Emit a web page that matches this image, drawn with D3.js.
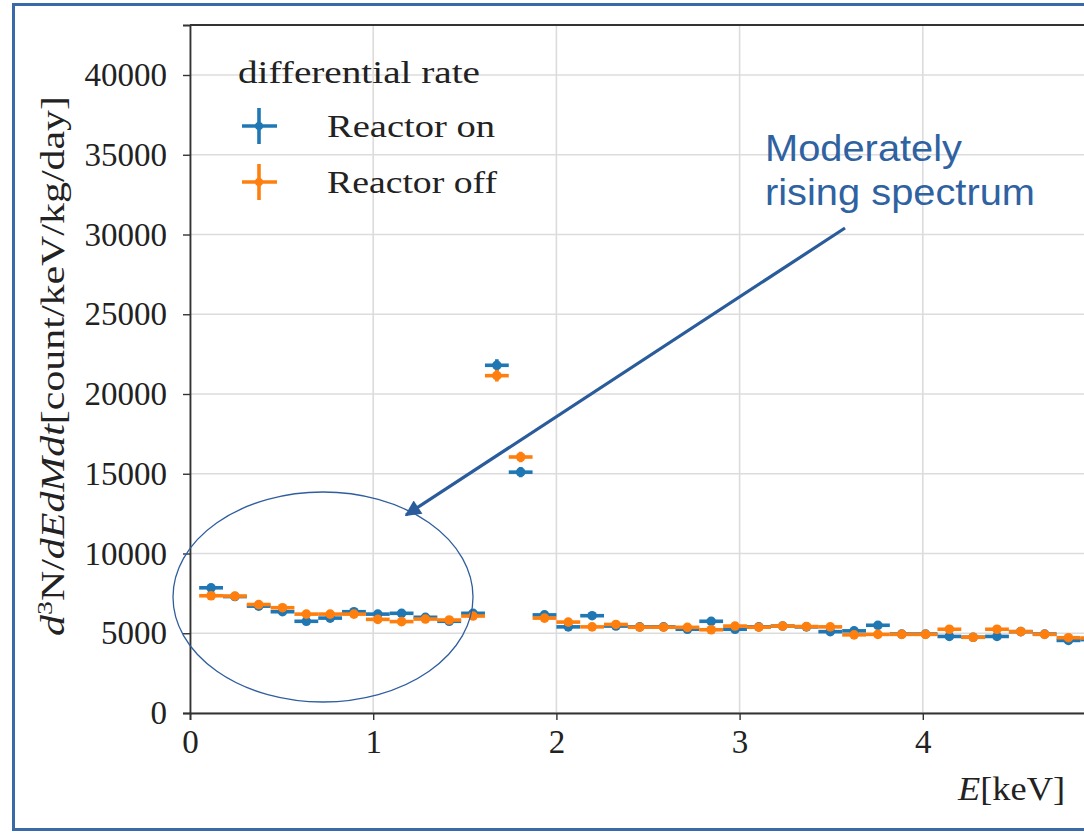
<!DOCTYPE html>
<html><head><meta charset="utf-8">
<script src="https://cdn.jsdelivr.net/npm/d3@7/dist/d3.min.js"></script>
<style>
html,body{margin:0;padding:0;background:#fff;overflow:hidden}
svg{display:block}
</style></head>
<body>
<script>
// ---- data ----
const energy = [0.115,0.245,0.375,0.505,0.635,0.765,0.895,1.025,1.155,1.285,1.415,1.545,1.675,1.805,1.935,2.065,2.195,2.325,2.455,2.585,2.715,2.845,2.975,3.105,3.235,3.365,3.495,3.625,3.755,3.885,4.015,4.145,4.275,4.405,4.535,4.665,4.795,4.925];
const binWidth = 0.13;
const rateOn  = [7850,7300,6700,6350,5750,5950,6350,6200,6250,6000,5750,6250,21800,15100,6150,5400,6100,5450,5400,5400,5250,5750,5250,5400,5450,5400,5100,5150,5500,4950,4950,4800,4750,4800,5100,4950,4550,4600];
const rateOff = [7350,7330,6800,6600,6200,6200,6200,5870,5730,5890,5830,6080,21150,16050,5950,5700,5400,5550,5380,5380,5370,5220,5450,5380,5450,5420,5400,4900,4930,4930,4930,5250,4750,5250,5100,4930,4720,4700];
const errOn  = [230,220,210,210,200,200,210,210,210,200,200,210,380,320,210,190,200,190,190,190,190,200,190,190,190,190,190,190,190,180,180,180,180,180,190,180,180,180];
const errOff = [220,220,210,210,200,200,200,200,200,200,200,200,370,330,200,190,190,190,190,190,190,190,190,190,190,190,190,180,180,180,180,190,180,190,190,180,180,180];
const xTicks = [0,1,2,3,4];
const xGrid = [0,1,2,3,4,5];
const yTicks = [0,5000,10000,15000,20000,25000,30000,35000,40000];
const seriesNames = ["Reactor on","Reactor off"];
const seriesColors = ["#1f77b4","#ff7f0e"];
const legendTitle = "differential rate";
const noteLines = ["Moderately","rising spectrum"];

// ---- layout ----
const W = 1084, H = 833;
const svg = d3.select("body").append("svg").attr("width", W).attr("height", H);
const serif = "'Liberation Serif','Times New Roman',serif";
const sans = "'Liberation Sans',Arial,sans-serif";

const x = d3.scaleLinear().domain([0, 5.3]).range([190, 190 + 183.2 * 5.3]);
const y = d3.scaleLinear().domain([0, 43135]).range([713, 25]);

// slide frame
svg.append("rect").attr("x", 13.5).attr("y", 4.5).attr("width", 1200).attr("height", 825)
  .attr("fill", "none").attr("stroke", "#3a69a8").attr("stroke-width", 3);

// grid
const g = svg.append("g");
g.selectAll(".gx").data(xGrid).join("line")
  .attr("x1", d => x(d)).attr("x2", d => x(d)).attr("y1", y(43135)).attr("y2", y(0))
  .attr("stroke", "#dcdcdc").attr("stroke-width", 1.6);
g.selectAll(".gy").data(yTicks).join("line")
  .attr("x1", x(0)).attr("x2", x(5.3)).attr("y1", d => y(d)).attr("y2", d => y(d))
  .attr("stroke", "#dcdcdc").attr("stroke-width", 1.6);

// axes
const xAxis = d3.axisBottom(x).tickValues(xTicks).tickSize(7).tickPadding(8).tickFormat(d3.format("d"));
const yAxis = d3.axisLeft(y).tickValues(yTicks).tickSize(7).tickPadding(16).tickFormat(d3.format("d"));
const gx = svg.append("g").attr("transform", `translate(0,${y(0)})`).call(xAxis);
const gy = svg.append("g").attr("transform", `translate(${x(0)},0)`).call(yAxis);
[gx, gy].forEach(a => {
  a.select(".domain").attr("stroke", "#333").attr("stroke-width", 1.8);
  a.selectAll(".tick line").attr("stroke", "#333").attr("stroke-width", 1.4);
  a.selectAll(".tick text").attr("font-family", serif).attr("font-size", 33).attr("fill", "#222");
});
gx.selectAll(".tick text").attr("dy", "0.75em");
// top spine
svg.append("line").attr("x1", x(0)).attr("x2", x(5.3)).attr("y1", y(43135)).attr("y2", y(43135))
  .attr("stroke", "#333").attr("stroke-width", 1.8);

// error bars
const series = [rateOn, rateOff];
const errs = [errOn, errOff];
series.forEach((vals, si) => {
  const sg = svg.append("g").attr("stroke", seriesColors[si]).attr("fill", seriesColors[si]);
  const pts = energy.map((e, i) => ({e, v: vals[i], err: errs[si][i]}));
  sg.selectAll(".h").data(pts).join("line")
    .attr("x1", d => x(d.e - binWidth / 2)).attr("x2", d => x(d.e + binWidth / 2))
    .attr("y1", d => y(d.v)).attr("y2", d => y(d.v)).attr("stroke-width", 3.6);
  sg.selectAll(".v").data(pts).join("line")
    .attr("x1", d => x(d.e)).attr("x2", d => x(d.e))
    .attr("y1", d => y(d.v - d.err)).attr("y2", d => y(d.v + d.err)).attr("stroke-width", 3.6);
  sg.selectAll("circle").data(pts).join("circle")
    .attr("cx", d => x(d.e)).attr("cy", d => y(d.v)).attr("r", 4.8).attr("stroke", "none");
});

// legend
svg.append("text").attr("x", 238).attr("y", 83).attr("font-family", serif).attr("font-size", 32)
  .attr("fill", "#222").attr("textLength", 242).attr("lengthAdjust", "spacingAndGlyphs").text(legendTitle);
seriesNames.forEach((name, i) => {
  const cy = 126 + i * 56;
  const lg = svg.append("g").attr("stroke", seriesColors[i]).attr("stroke-width", 3.6);
  lg.append("line").attr("x1", 242).attr("x2", 277).attr("y1", cy).attr("y2", cy);
  lg.append("line").attr("x1", 259).attr("x2", 259).attr("y1", cy - 18).attr("y2", cy + 18);
  lg.append("circle").attr("cx", 259).attr("cy", cy).attr("r", 4).attr("fill", seriesColors[i]).attr("stroke", "none");
  svg.append("text").attr("x", 327).attr("y", cy + 11).attr("font-family", serif).attr("font-size", 32)
    .attr("fill", "#222").attr("textLength", i === 0 ? 168 : 170).attr("lengthAdjust", "spacingAndGlyphs").text(name);
});

// axis labels
const xl = svg.append("text").attr("x", 958).attr("y", 800).attr("font-family", serif).attr("font-size", 33)
  .attr("fill", "#222").attr("textLength", 107).attr("lengthAdjust", "spacingAndGlyphs");
xl.append("tspan").attr("font-style", "italic").text("E");
xl.append("tspan").text("[keV]");

const yl = svg.append("text").attr("transform", "translate(64,366) rotate(-90)").attr("text-anchor", "middle")
  .attr("font-family", serif).attr("font-size", 33).attr("fill", "#222")
  .attr("textLength", 540).attr("lengthAdjust", "spacingAndGlyphs");
yl.append("tspan").attr("font-style", "italic").text("d");
yl.append("tspan").attr("font-size", 22).attr("dy", -12).text("3");
yl.append("tspan").attr("dy", 12).text("N/");
yl.append("tspan").attr("font-style", "italic").text("dEdMdt");
yl.append("tspan").text("[count/keV/kg/day]");

// annotation
const noteColor = "#2f62a1";
svg.append("ellipse").attr("cx", 323).attr("cy", 597).attr("rx", 150).attr("ry", 105)
  .attr("fill", "none").attr("stroke", "#2f5e9f").attr("stroke-width", 1.3);
const defs = svg.append("defs");
defs.append("marker").attr("id", "ah").attr("viewBox", "0 0 10 10").attr("refX", 9).attr("refY", 5)
  .attr("markerWidth", 20).attr("markerHeight", 16).attr("markerUnits", "userSpaceOnUse").attr("orient", "auto")
  .append("path").attr("d", "M0,0 L10,5 L0,10 z").attr("fill", "#2a5c9c");
svg.append("line").attr("x1", 845).attr("y1", 228).attr("x2", 406).attr("y2", 515)
  .attr("stroke", "#2a5c9c").attr("stroke-width", 3.2).attr("marker-end", "url(#ah)");
noteLines.forEach((t, i) => {
  svg.append("text").attr("x", 765).attr("y", 161 + i * 44).attr("font-family", sans).attr("font-size", 37)
    .attr("fill", noteColor).attr("textLength", i === 0 ? 197 : 270).attr("lengthAdjust", "spacingAndGlyphs").text(t);
});
</script>
</body></html>
